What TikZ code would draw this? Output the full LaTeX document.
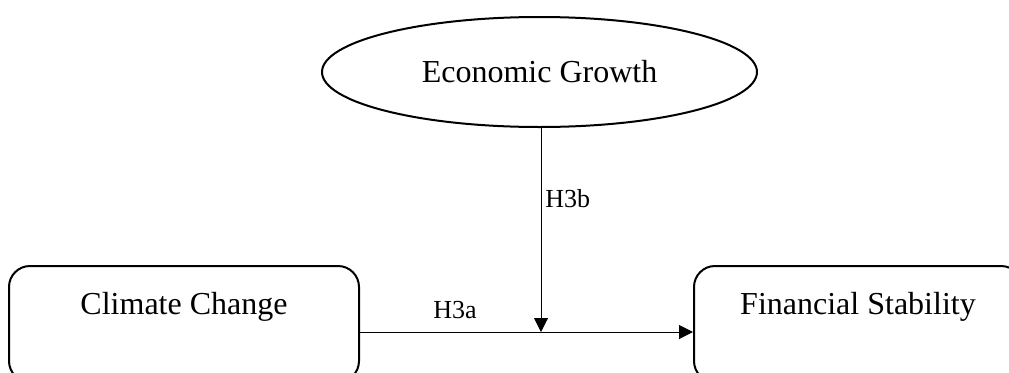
\documentclass[tikz,border=0pt]{standalone}
\usepackage{fontspec}
\setmainfont{Liberation Serif}
\usetikzlibrary{shapes.geometric,arrows.meta}

\tikzset{
  bigtext/.style={font=\fontsize{24}{28}\selectfont},
  hyplabel/.style={font=\fontsize{19.5}{23}\selectfont, inner sep=0pt, anchor=base west},
  construct/.style={draw, line width=1.5pt, rounded corners=15.75pt, inner sep=0pt,
    text height=36pt, text depth=51pt, anchor=north, bigtext},
  moderator/.style={draw, ellipse, line width=1.5pt, inner sep=0pt,
    minimum width=326.25pt, minimum height=82.5pt, bigtext},
  path/.style={line width=0.75pt, -{Triangle[length=10.5pt, width=10.5pt]}}
}

\begin{document}
\begin{tikzpicture}[x=0.75pt, y=-0.75pt]
  \useasboundingbox (0,0) rectangle (1009,372);
  \clip (0,0) rectangle (1009,372);

  % constructs
  \node[moderator] (eg) at (539.5,72) {Economic Growth};
  \node[construct, minimum width=262.5pt] (cc) at (184,265) {Climate Change};
  \node[construct, minimum width=246pt] (fs) at (858,265) {Financial Stability};

  % point where the moderating path meets the direct path
  \coordinate (j) at (541,332);

  % direct and moderating effects
  \draw[path] (cc.east |- j) -- (fs.west |- j);
  \draw[path] (j |- eg.south) -- (j);

  % hypothesis labels
  \node[hyplabel] (h3a) at (433,318) {H3a};
  \node[hyplabel] (h3b) at (545,207) {H3b};
\end{tikzpicture}
\end{document}
